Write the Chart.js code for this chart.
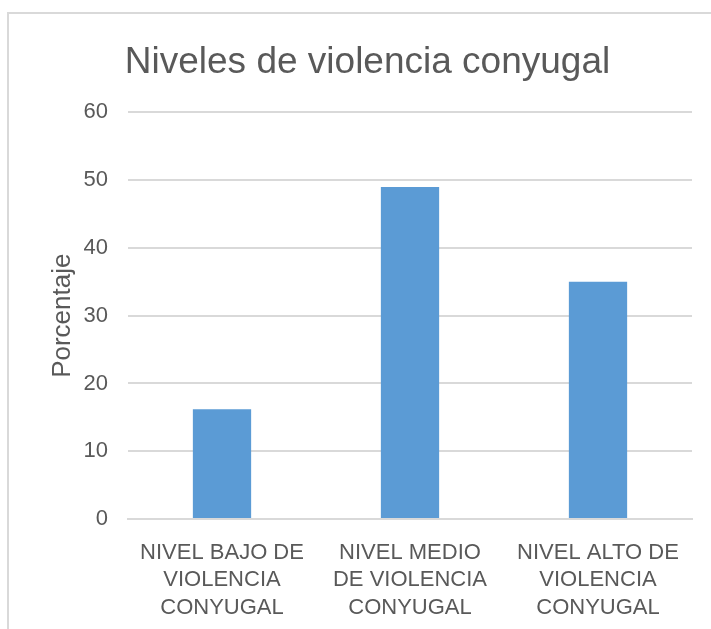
<!DOCTYPE html>
<html>
<head>
<meta charset="utf-8">
<script src="https://cdn.jsdelivr.net/npm/chart.js@4/dist/chart.umd.min.js"></script>
<style>
  html, body { margin: 0; padding: 0; background: #fff; }
  #frame {
    position: absolute; left: 7px; top: 12px;
    width: 720px; height: 640px;
    border: 2px solid #d9d9d9; box-sizing: border-box;
  }
  #chart { position: absolute; left: 0; top: 0; }
</style>
</head>
<body>
<div id="frame"></div>
<canvas id="chart" width="711" height="629"></canvas>
<script>
// Chart data
const categories = [
    ['NIVEL BAJO DE', 'VIOLENCIA', 'CONYUGAL'],
    ['NIVEL MEDIO', 'DE VIOLENCIA', 'CONYUGAL'],
    ['NIVEL ALTO DE', 'VIOLENCIA', 'CONYUGAL']
];
const percentages = [16.2, 49, 35];
const yTicks = [0, 10, 20, 30, 40, 50, 60];

const textColor = '#595959';
const fontFamily = '"Liberation Sans", Arial, sans-serif';

new Chart(document.getElementById('chart'), {
    type: 'bar',
    data: {
        labels: categories,
        datasets: [{
            label: 'Porcentaje',
            data: percentages,
            backgroundColor: '#5b9bd5',
            barPercentage: 0.62,
            categoryPercentage: 0.5
        }]
    },
    options: {
        responsive: false,
        animation: false,
        layout: { padding: { left: 43, right: 19, top: 41, bottom: 0 } },
        plugins: {
            legend: { display: false },
            tooltip: { enabled: false },
            title: {
                display: true,
                text: 'Niveles de violencia conyugal',
                color: textColor,
                font: { family: fontFamily, size: 37, weight: 'normal' },
                padding: { top: 0, bottom: 27 }
            }
        },
        scales: {
            x: {
                grid: { display: false },
                border: { color: '#d9d9d9', width: 2 },
                ticks: {
                    color: textColor,
                    font: { family: fontFamily, size: 22, lineHeight: 1.25 },
                    maxRotation: 0,
                    autoSkip: false,
                    padding: 12
                },
                afterFit: axis => { axis.height = 110; }
            },
            y: {
                min: yTicks[0],
                max: yTicks[yTicks.length - 1],
                afterBuildTicks: axis => { axis.ticks = yTicks.map(v => ({ value: v })); },
                grid: { color: '#d9d9d9', lineWidth: 2, drawTicks: false },
                border: { display: false },
                ticks: {
                    color: textColor,
                    font: { family: fontFamily, size: 22 },
                    padding: 20
                },
                title: {
                    display: true,
                    text: 'Porcentaje',
                    color: textColor,
                    font: { family: fontFamily, size: 26 },
                    padding: { top: 4, bottom: 8 }
                },
                afterFit: axis => { axis.width = 85; }
            }
        }
    }
});
</script>
</body>
</html>
